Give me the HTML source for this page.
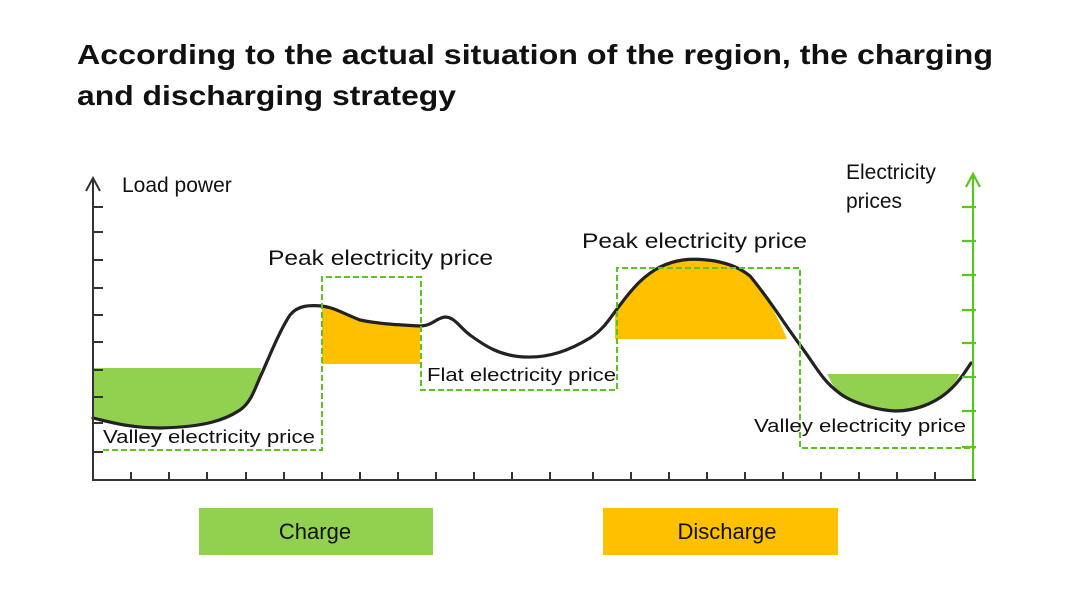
<!DOCTYPE html>
<html><head><meta charset="utf-8"><style>
html,body{margin:0;padding:0;background:#fff;width:1071px;height:613px;overflow:hidden}
svg{display:block}
text{font-family:"Liberation Sans",sans-serif;fill:#111}
</style></head><body>
<svg width="1071" height="613" viewBox="0 0 1071 613" xmlns="http://www.w3.org/2000/svg">
<text x="77" y="64" font-size="28" font-weight="bold" textLength="916" lengthAdjust="spacingAndGlyphs">According to the actual situation of the region, the charging</text>
<text x="77" y="105" font-size="28" font-weight="bold" textLength="379" lengthAdjust="spacingAndGlyphs">and discharging strategy</text>

<!-- fills -->
<path d="M93,368 L261,368 L260,375 C255,390 250,405 240,410 C225,420 205,427 160,428 C130,428 110,422 93,418 Z" fill="#92d050"/>
<path d="M322,306 C335,308 340,312 360,320 C380,324 400,325 420,326 L420,364 L322,364 Z" fill="#ffc000"/>
<path d="M615,339 L615,310 C625,295 640,278 660,267 C675,260 690,257 715,261 C730,264 740,268 750,276 C765,295 775,310 787,339 Z" fill="#ffc000"/>
<path d="M827,374 L960,374 C953,386 945,398 925,407 C910,412 895,411 880,408 C860,404 845,398 838,392 C833,386 830,380 827,374 Z" fill="#92d050"/>

<!-- curve -->
<path d="M93,418 C110,422 130,428 160,428 C205,427 225,420 240,410 C252,402 256,385 262,373 C270,355 280,330 290,315 C298,305 310,305 322,306 C335,308 340,312 360,320 C380,324 400,325 420,326 C432,326 436,318 445,317 C455,317 460,328 470,335 C485,346 500,356 525,357 C550,358 570,350 590,338 C605,328 610,318 620,305 C635,285 645,275 660,267 C675,260 690,257 715,261 C730,264 740,268 750,276 C770,300 785,325 800,345 C815,365 822,380 838,392 C850,402 875,410 895,411 C920,411 940,400 952,388 C960,380 965,372 971,363" fill="none" stroke="#222" stroke-width="3.2" stroke-linecap="round"/>

<!-- dashed boxes -->
<path d="M103,450 L322,450 L322,277 L421,277 L421,390 L617,390 L617,268 L800,268 L800,448 L975,448" fill="none" stroke="#5cc41f" stroke-width="2" stroke-dasharray="6,3"/>

<!-- left axis -->
<g stroke="#333" stroke-width="2" fill="none">
<line x1="93" y1="178" x2="93" y2="480"/>
<path d="M86,191 L93,178 L100,191"/>
<line x1="92" y1="480" x2="976" y2="480"/>
<path d="M93,207h10M93,232h10M93,260h10M93,288h10M93,315h10M93,342h10M93,370h10M93,397h10M93,423h10M93,452h10"/>
<path d="M131,472v8M169,472v8M207,472v8M246,472v8M284,472v8M322,472v8M360,472v8M398,472v8M436,472v8M474,472v8M512,472v8M550,472v8M593,472v8M631,472v8M669,472v8M707,472v8M745,472v8M783,472v8M821,472v8M859,472v8M897,472v8M935,472v8"/>
</g>
<!-- right axis -->
<g stroke="#5cc41f" stroke-width="2.2" fill="none">
<line x1="973" y1="174" x2="973" y2="479"/>
<path d="M966,187 L973,174 L980,187"/>
<path d="M962,207h14M962,241h14M962,275h14M962,310h14M962,343h14M962,377h14M962,411h14M962,447h14"/>
</g>

<text x="122" y="192" font-size="21">Load power</text>
<text x="846" y="179" font-size="21">Electricity</text>
<text x="846" y="208" font-size="21">prices</text>
<text x="268" y="265" font-size="21" textLength="225" lengthAdjust="spacingAndGlyphs">Peak electricity price</text>
<text x="582" y="248" font-size="21" textLength="225" lengthAdjust="spacingAndGlyphs">Peak electricity price</text>
<text x="427" y="381" font-size="18" textLength="189" lengthAdjust="spacingAndGlyphs">Flat electricity price</text>
<text x="103" y="443" font-size="18" textLength="212" lengthAdjust="spacingAndGlyphs">Valley electricity price</text>
<text x="754" y="432" font-size="18" textLength="212" lengthAdjust="spacingAndGlyphs">Valley electricity price</text>

<rect x="199" y="508" width="234" height="47" fill="#92d050"/>
<rect x="603" y="508" width="235" height="47" fill="#ffc000"/>
<text x="315" y="539" font-size="22" text-anchor="middle">Charge</text>
<text x="727" y="539" font-size="22" text-anchor="middle">Discharge</text>
</svg>
</body></html>
